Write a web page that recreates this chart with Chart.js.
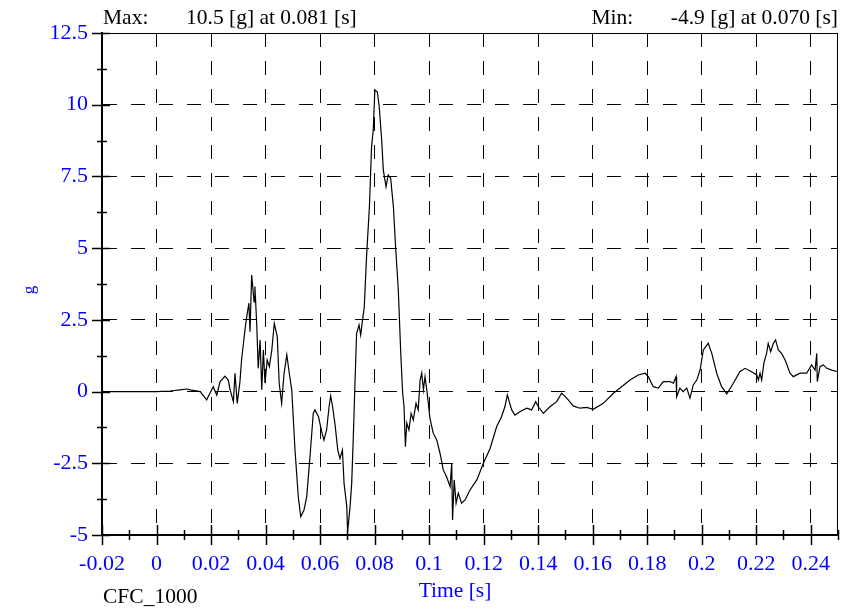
<!DOCTYPE html>
<html>
<head>
<meta charset="utf-8">
<script src="https://cdn.jsdelivr.net/npm/chart.js@4/dist/chart.umd.min.js"></script>
<style>
  body { margin: 0; background: #fff; }
  canvas { display: block; }
</style>
</head>
<body>
<canvas id="myChart" width="853" height="611"></canvas>
<script>
// time [s]
var times = [-0.02, 0.0, 0.005, 0.0086, 0.0111, 0.0123, 0.016, 0.0184, 0.0196, 0.0208, 0.0221, 0.0233, 0.0251, 0.0263, 0.027, 0.0282, 0.0288, 0.0296, 0.0306, 0.0312,
  0.0325, 0.0331, 0.0339, 0.0343, 0.0349, 0.0358, 0.0361, 0.0368, 0.0373, 0.038, 0.0386, 0.0392, 0.0398, 0.0406, 0.0414, 0.0423, 0.0432, 0.0443, 0.045, 0.0459,
  0.0468, 0.0478, 0.0487, 0.0496, 0.0508, 0.052, 0.0529, 0.0541, 0.0551, 0.0563, 0.0575, 0.0581, 0.0594, 0.0606, 0.0614, 0.0624, 0.0633, 0.0639, 0.0646, 0.0655,
  0.0665, 0.0673, 0.0682, 0.0688, 0.0698, 0.0701, 0.071, 0.0716, 0.0722, 0.0728, 0.0734, 0.0743, 0.0749, 0.0755, 0.0762, 0.0771, 0.0781, 0.0789, 0.0795, 0.0801,
  0.081, 0.0817, 0.0826, 0.0832, 0.0842, 0.085, 0.0859, 0.0869, 0.0877, 0.0887, 0.0896, 0.0903, 0.0908, 0.0913, 0.0918, 0.0926, 0.0934, 0.0942, 0.0952, 0.096,
  0.0967, 0.0973, 0.0979, 0.0985, 0.0993, 0.1003, 0.1015, 0.1028, 0.104, 0.1052, 0.1064, 0.1077, 0.1083, 0.1086, 0.1092, 0.1099, 0.1107, 0.1119, 0.1132, 0.115,
  0.1175, 0.1199, 0.1223, 0.1248, 0.1266, 0.1278, 0.1287, 0.1294, 0.1303, 0.1315, 0.1333, 0.1358, 0.1376, 0.1391, 0.1401, 0.1419, 0.1443, 0.1468, 0.1486, 0.1505,
  0.1529, 0.1553, 0.1578, 0.1602, 0.1639, 0.1676, 0.1706, 0.1737, 0.1767, 0.1792, 0.1804, 0.1822, 0.1841, 0.1859, 0.1884, 0.1896, 0.1906, 0.1908, 0.192, 0.1932,
  0.1945, 0.1957, 0.1969, 0.1982, 0.1994, 0.2006, 0.2024, 0.2037, 0.2055, 0.2073, 0.2092, 0.2116, 0.214, 0.2159, 0.2183, 0.2202, 0.2208, 0.2214, 0.222, 0.2228,
  0.2238, 0.2244, 0.2253, 0.2263, 0.2271, 0.2281, 0.2293, 0.2306, 0.2324, 0.2336, 0.2361, 0.2385, 0.2403, 0.2416, 0.2422, 0.2424, 0.2434, 0.2446, 0.2459, 0.2477,
  0.25]
// acceleration [g]
var accel = [0, 0, 0.02, 0.06, 0.09, 0.06, 0, -0.29, -0.06, 0.17, -0.12, 0.34, 0.54, 0.4, 0.06, -0.35, 0.64, -0.41, 0.34, 1.1,
  2.2, 2.61, 3.08, 2.09, 4.06, 3.13, 3.66, 2.26, 0.81, 1.8, 0.06, 1.45, 0.29, 1.1, 0.87, 1.45, 2.38, 1.91, 0.29, -0.41,
  0.64, 1.28, 0.64, 0.06, -2.04, -3.66, -4.36, -4.13, -3.66, -2.27, -0.76, -0.64, -0.87, -1.4, -1.69, -1.34, -0.53, -0.15, -0.53, -1.16,
  -2.04, -2.33, -2.04, -3.2, -4.01, -4.9, -4.01, -3.2, -1.57, 0.29, 2.03, 2.32, 1.97, 2.44, 2.93, 4.8, 6.44, 8.54, 9.12, 10.51,
  10.45, 9.93, 8.77, 7.72, 7.14, 7.55, 7.43, 6.44, 5.05, 3.54, 1.33, -0.06, -0.53, -1.92, -1.1, -1.34, -0.76, -0.99, -0.41, -0.64,
  0.4, 0.64, 0.06, 0.52, -0.06, -0.93, -1.45, -1.69, -2.15, -2.73, -2.97, -3.31, -2.5, -4.48, -3.08, -3.89, -3.54, -3.89, -3.78, -3.43,
  -3.08, -2.5, -2.0, -1.22, -0.87, -0.53, -0.12, -0.35, -0.64, -0.82, -0.7, -0.58, -0.64, -0.35, -0.53, -0.76, -0.53, -0.35, -0.06, -0.23,
  -0.5, -0.58, -0.55, -0.62, -0.41, -0.06, 0.17, 0.4, 0.58, 0.64, 0.52, 0.17, 0.12, 0.35, 0.35, 0.29, 0.52, -0.18, 0.12, 0,
  0.12, -0.23, 0.23, 0.4, 0.75, 1.45, 1.68, 1.33, 0.64, 0.17, -0.08, 0.29, 0.69, 0.81, 0.69, 0.58, 0.4, 0.64, 0.4, 0.99,
  1.33, 1.68, 1.39, 1.68, 1.8, 1.45, 1.33, 1.1, 0.64, 0.52, 0.64, 0.64, 0.93, 0.75, 1.33, 0.35, 0.87, 0.93, 0.81, 0.75,
  0.69]

var maxText = 'Max:       10.5 [g] at 0.081 [s]'
var minText = 'Min:       -4.9 [g] at 0.070 [s]'
var filterName = 'CFC_1000'
var xTitle = 'Time [s]'
var yTitle = 'g'

var serif = '"Liberation Serif", "Times New Roman", serif'
var blue = '#0000ff'

var points = []
for (var i = 0; i < times.length; i++) {
  points.push({ x: times[i], y: accel[i] })
}

// axis ticks, frame and texts
var decor = {
  id: 'decor',
  afterDraw: function (chart) {
    var ctx = chart.ctx
    var a = chart.chartArea
    var xs = chart.scales.x
    var ys = chart.scales.y
    ctx.save()
    ctx.strokeStyle = '#000'
    ctx.lineWidth = 1
    ctx.beginPath()
    ctx.moveTo(a.left, a.top + 0.5)
    ctx.lineTo(a.right, a.top + 0.5)
    ctx.moveTo(a.right - 0.5, a.top)
    ctx.lineTo(a.right - 0.5, a.bottom)
    ctx.stroke()

    ctx.lineWidth = 1.5
    ctx.beginPath()
    for (var k = 0; k <= 27; k++) {
      var px = Math.round(xs.getPixelForValue(-0.02 + k * 0.01)) + 0.5
      var len = (k % 2 == 0) ? 10 : 5
      ctx.moveTo(px, a.bottom - len)
      ctx.lineTo(px, a.bottom + len)
    }
    for (var j = 0; j <= 14; j++) {
      var py = Math.round(ys.getPixelForValue(-5 + j * 1.25)) + 0.5
      if (j % 2 == 0) {
        ctx.moveTo(a.left - 10, py)
        ctx.lineTo(a.left + 8, py)
      } else {
        ctx.moveTo(a.left - 5, py)
        ctx.lineTo(a.left + 5, py)
      }
    }
    ctx.stroke()

    ctx.font = '21.5px ' + serif
    ctx.fillStyle = '#000'
    ctx.textBaseline = 'alphabetic'
    ctx.textAlign = 'left'
    ctx.fillText(maxText, a.left + 1, 24)
    ctx.textAlign = 'right'
    ctx.fillText(minText, a.right, 24)
    ctx.textAlign = 'left'
    ctx.fillText(filterName, 103, 603)
    ctx.fillStyle = blue
    ctx.textAlign = 'center'
    ctx.fillText(xTitle, 455, 597)

    ctx.font = '17px ' + serif
    ctx.translate(30, 290)
    ctx.rotate(-Math.PI / 2)
    ctx.textBaseline = 'middle'
    ctx.fillText(yTitle, 0, 0)
    ctx.restore()
  }
}

var ctx = document.getElementById('myChart').getContext('2d')
var chart = new Chart(ctx, {
  type: 'line',
  data: {
    datasets: [{
      data: points,
      borderColor: '#000',
      borderWidth: 1.2,
      pointRadius: 0,
      tension: 0,
      fill: false
    }]
  },
  options: {
    responsive: false,
    animation: false,
    events: [],
    layout: { padding: { top: 33, right: 15, left: 0, bottom: 0 } },
    plugins: { legend: { display: false }, tooltip: { enabled: false }, title: { display: false } },
    scales: {
      x: {
        type: 'linear',
        min: -0.02,
        max: 0.25,
        afterFit: function (s) { s.height = 76 },
        ticks: { stepSize: 0.02, includeBounds: false, color: blue, padding: 16, maxRotation: 0, autoSkip: false,
          font: { family: serif, size: 22 },
          callback: function (v) { return String(+v.toFixed(2)) } },
        grid: { color: '#000', lineWidth: 1, drawTicks: false },
        border: { display: true, color: '#000', width: 2, dash: [14, 14] }
      },
      y: {
        min: -5,
        max: 12.5,
        afterFit: function (s) { s.width = 102 },
        ticks: { stepSize: 2.5, color: blue, padding: 14,
          font: { family: serif, size: 22 } },
        grid: { color: '#000', lineWidth: 1, drawTicks: false },
        border: { display: true, color: '#000', width: 2, dash: [14, 14] }
      }
    }
  },
  plugins: [decor]
})
</script>
</body>
</html>
